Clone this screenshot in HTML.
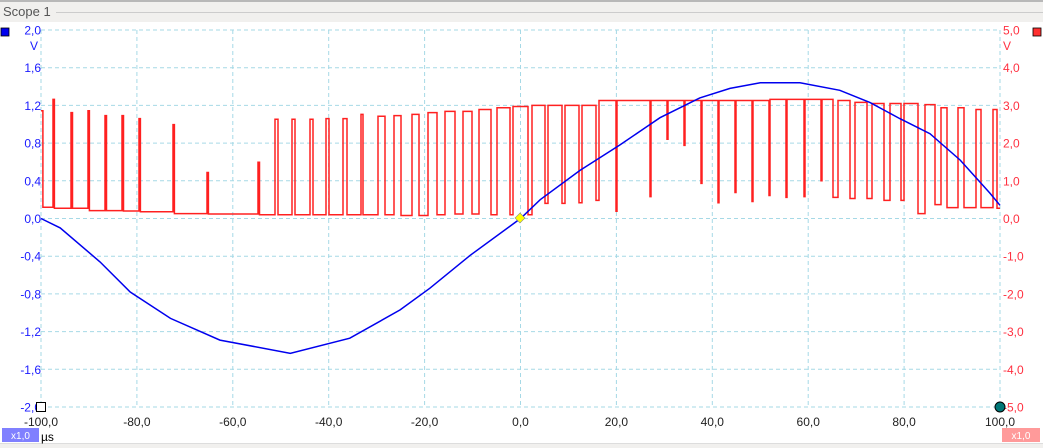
<!DOCTYPE html>
<html><head><meta charset="utf-8"><style>
body{margin:0;width:1043px;height:448px;overflow:hidden;background:#fff;font-family:"Liberation Sans","DejaVu Sans",sans-serif}
</style></head><body>
<svg id="c" width="1043" height="448" xmlns="http://www.w3.org/2000/svg" style="display:block">
<rect x="0" y="0" width="1043" height="22" fill="#f1f0ee"/>
<rect x="0" y="0" width="1043" height="2" fill="#b8b8b8"/>
<text x="3" y="16" font-size="13" fill="#555">Scope 1</text>
<line x1="56" y1="12.5" x2="1043" y2="12.5" stroke="#ccc"/>
<rect x="0" y="428" width="1043" height="20" fill="#fff"/>
<line x1="0" y1="443.5" x2="1043" y2="443.5" stroke="#ddd"/>
<rect x="0" y="444" width="1043" height="4" fill="#f1f0ee"/>
<g id="grid"></g><g id="labels"></g>
<path id="red" fill="none" stroke="#ff2020" stroke-width="1.5"/>
<path id="blue" fill="none" stroke="#0000ee" stroke-width="1.5"/>
<rect x="1" y="28" width="8" height="8" fill="#0000ee" stroke="#000" stroke-width="0.8"/>
<rect x="1033" y="28" width="8" height="8" fill="#ff3030" stroke="#000" stroke-width="0.8"/>
<rect x="36.5" y="402.5" width="9" height="9" fill="#fff" stroke="#000"/>
<circle cx="1000" cy="407" r="5" fill="#007777" stroke="#000"/>
<polygon points="520,213 525,218 520,223 515,218" fill="#ffff00" stroke="#888" stroke-width="0.6"/>
<rect x="2" y="428" width="37" height="14" fill="#8080ff"/>
<text x="20.5" y="439" font-size="10" fill="#fff" text-anchor="middle">x1,0</text>
<text x="41" y="441" font-size="12" fill="#000">µs</text>
<rect x="1002" y="428" width="38" height="14" fill="#ff9a9a"/>
<text x="1021" y="439" font-size="10" fill="#fff" text-anchor="middle">x1,0</text>
</svg>
<script>
const xTicks=[-100,-80,-60,-40,-20,0,20,40,60,80,100];
const xTickLabels=["-100,0","-80,0","-60,0","-40,0","-20,0","0,0","20,0","40,0","60,0","80,0","100,0"];
const leftTicks=[2.0,1.6,1.2,0.8,0.4,0.0,-0.4,-0.8,-1.2,-1.6,-2.0];
const leftTickLabels=["2,0","1,6","1,2","0,8","0,4","0,0","-0,4","-0,8","-1,2","-1,6","-2,0"];
const rightTicks=[5,4,3,2,1,0,-1,-2,-3,-4,-5];
const rightTickLabels=["5,0","4,0","3,0","2,0","1,0","0,0","-1,0","-2,0","-3,0","-4,0","-5,0"];
const blueT=[-100,-96,-87.7,-81.4,-73,-62.7,-48,-35.6,-25.1,-18.9,-10.5,0,4.1,12.4,20.7,29.1,37.4,43.7,50,58.3,66.6,72.9,79.1,85.4,91.7,97.9,100];
const blueV=[0,-0.1,-0.46,-0.78,-1.06,-1.29,-1.43,-1.27,-0.97,-0.74,-0.39,0,0.2,0.51,0.78,1.07,1.28,1.38,1.44,1.44,1.36,1.23,1.06,0.9,0.62,0.27,0.14];
const pulseRise=[-100,-97.5,-93.74,-90.2,-86.65,-83.1,-79.56,-72.47,-65.38,-54.74,-51.2,-47.65,-43.9,-40.56,-37.02,-33.26,-29.71,-26.38,-22.63,-19.29,-15.75,-12.0,-8.66,-4.9,-1.56,2.4,5.74,9.28,12.83,16.37,20.13,27.21,30.76,34.31,37.85,41.4,44.94,48.49,52.03,55.58,59.33,62.88,66.21,69.76,73.3,77.06,79.98,84.36,87.7,91.24,95.0,98.54];
const pulseFall=[-99.6,-97.2,-93.44,-89.9,-86.35,-82.8,-79.26,-72.17,-65.08,-54.44,-50.57,-47.03,-43.27,-39.94,-36.18,-32.85,-28.26,-24.92,-21.17,-17.41,-13.67,-10.12,-6.16,-2.19,1.56,5.11,8.66,12.2,15.75,19.92,27.0,30.55,34.1,37.64,41.19,44.73,48.28,51.82,55.37,59.12,62.67,65.17,68.72,72.26,75.8,79.35,82.9,86.45,88.95,92.49,96.04,99.37];
const pulseTop=[2.86,3.16,2.81,2.86,2.73,2.73,2.65,2.49,1.22,1.49,2.63,2.63,2.63,2.65,2.65,2.76,2.71,2.73,2.76,2.81,2.84,2.84,2.89,2.94,2.97,3.0,3.0,3.0,3.0,3.13,3.13,3.13,3.13,3.13,3.13,3.13,3.13,3.13,3.16,3.16,3.16,3.16,3.13,3.08,3.05,3.05,3.05,3.02,2.94,2.94,2.89,2.89];
const pulseLow=[0.3,0.27,0.27,0.21,0.21,0.2,0.18,0.13,0.12,0.1,0.1,0.1,0.1,0.1,0.1,0.1,0.1,0.08,0.08,0.1,0.12,0.12,0.1,0.1,0.1,0.4,0.4,0.42,0.48,0.19,0.58,2.1,1.94,0.93,0.42,0.69,0.45,0.61,0.56,0.58,1.0,0.56,0.53,0.53,0.48,0.48,0.13,0.37,0.29,0.29,0.29,0.27];
const X=t=>41+(t+100)*(959/200);
const YL=v=>218.5-v*(377/4);
const YR=v=>218.5-v*(377/10);
const NS="http://www.w3.org/2000/svg";
const g=document.getElementById('grid'),lb=document.getElementById('labels');
function mk(tag,at,parent){const e=document.createElementNS(NS,tag);for(const k in at)e.setAttribute(k,at[k]);parent.appendChild(e);return e;}
xTicks.forEach((t,i)=>{
 const l=mk('line',{x1:X(t),x2:X(t),y1:30,y2:407,stroke:'#a6d9e6','stroke-dasharray':'4,3'},g);
 
 
 const tx=mk('text',{x:X(t),y:426,'font-size':12,'text-anchor':'middle',fill:'#222'},lb);
 tx.textContent=xTickLabels[i];
 
 
});
leftTicks.forEach((v,i)=>{
 const l=mk('line',{x1:41,x2:1000,y1:YL(v),y2:YL(v),stroke:'#a6d9e6','stroke-dasharray':'4,3'},g);
 
 
 const tx=mk('text',{x:41,y:YL(v)+4.5,'font-size':12,'text-anchor':'end',fill:'#1a1aff'},lb);
 tx.textContent=leftTickLabels[i];
 
 
});
rightTicks.forEach((v,i)=>{
 const tx=mk('text',{x:1003,y:YR(v)+4.5,'font-size':12,fill:'#ff3040'},lb);
 tx.textContent=rightTickLabels[i];
 
 
});
const vl=mk('text',{x:38,y:50,'font-size':12,'text-anchor':'end',fill:'#1a1aff'},lb);vl.textContent='V';


const vr=mk('text',{x:1003,y:50,'font-size':12,fill:'#ff3040'},lb);vr.textContent='V';


let d='';blueT.forEach((t,i)=>{d+=(i?'L':'M')+X(t).toFixed(1)+' '+YL(blueV[i]).toFixed(1);});
document.getElementById('blue').setAttribute('d',d);
let r='M'+X(pulseRise[0]).toFixed(1)+' '+YR(pulseTop[0]).toFixed(1);
pulseRise.forEach((t,i)=>{
 if(i>0){r+='L'+X(t).toFixed(1)+' '+YR(pulseLow[i-1]).toFixed(1)+'L'+X(t).toFixed(1)+' '+YR(pulseTop[i]).toFixed(1);}
 r+='L'+X(pulseFall[i]).toFixed(1)+' '+YR(pulseTop[i]).toFixed(1)+'L'+X(pulseFall[i]).toFixed(1)+' '+YR(pulseLow[i]).toFixed(1);
});
r+='L'+X(100).toFixed(1)+' '+YR(pulseLow[pulseLow.length-1]).toFixed(1);
document.getElementById('red').setAttribute('d',r);
</script>
</body></html>
